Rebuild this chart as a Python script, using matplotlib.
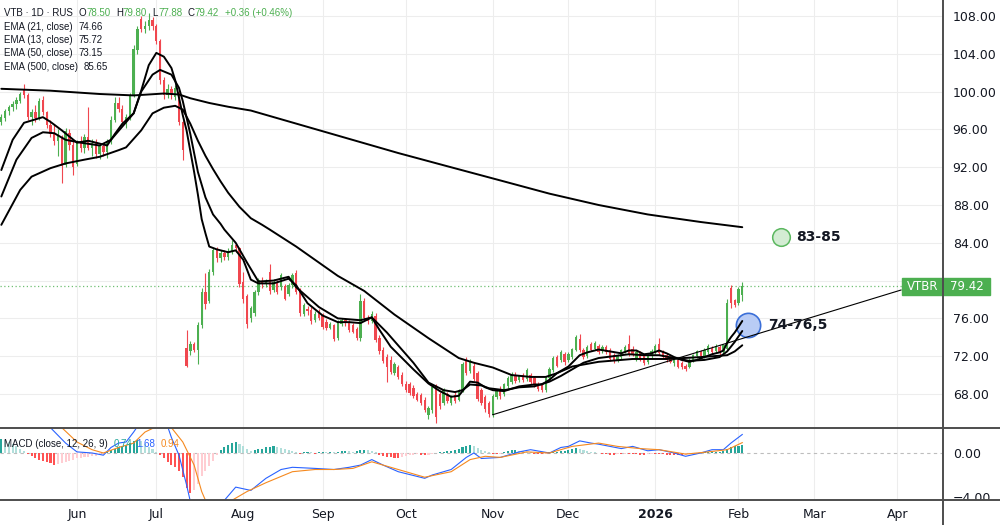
import numpy as np
import pandas as pd
import matplotlib
matplotlib.use("Agg")
import matplotlib.pyplot as plt
from matplotlib.lines import Line2D
from matplotlib.patches import Rectangle
from matplotlib.transforms import blended_transform_factory

# -----------------------
# Data
# -----------------------
ticker = "VTB · 1D · RUS"
symbol = "VTBR"
start_date = "2025-05-05"
end_date = "2026-04-30"

opens = [
    96.8, 97.2, 97.9, 98.4, 98.7, 99.0, 100.2, 99.6, 97.3, 97.8,
    97.2, 99.1, 97.8, 96.5, 95.5, 94.8, 95.2, 92.2, 95.6, 94.3,
    92.3, 94.6, 94.0, 95.2, 94.0, 94.6, 93.4, 94.2, 93.6, 94.8,
    97.0, 98.8, 98.2, 96.8, 97.3, 99.6, 104.4, 107.7, 106.6, 107.0,
    107.6, 106.9, 105.4, 101.2, 99.6, 100.3, 99.4, 100.0, 96.8, 72.9,
    72.5, 73.3, 72.6, 75.3, 78.8, 77.8, 80.9, 83.2, 82.4, 82.9,
    82.5, 83.1, 83.8, 83.4, 79.8, 78.4, 76.0, 76.6, 78.8, 80.0,
    79.6, 80.9, 79.0, 79.9, 79.3, 79.4, 78.6, 79.5, 80.8, 78.8,
    76.5, 77.0, 76.9, 75.8, 76.7, 76.4, 75.6, 75.0, 75.3, 73.9,
    75.4, 75.8, 75.6, 75.3, 74.9, 73.9, 77.8, 76.0, 75.7, 76.2,
    73.9, 72.7, 71.9, 71.6, 70.2, 70.9, 70.0, 69.1, 69.1, 68.6,
    68.0, 67.9, 67.4, 65.8, 66.3, 68.8, 68.0, 67.0, 68.0, 67.0,
    67.9, 67.4, 68.4, 71.6, 70.4, 71.0, 70.2, 68.4, 67.7, 67.0,
    65.8, 67.7, 68.5, 68.0, 68.8, 69.3, 70.0, 69.5, 70.0, 69.6,
    70.0, 69.7, 69.1, 68.9, 68.4, 69.7, 70.5, 71.9, 71.6, 72.2,
    71.6, 71.9, 72.7, 73.8, 72.7, 72.0, 73.3, 72.8, 73.1, 72.5,
    73.0, 72.7, 72.1, 71.6, 71.9, 72.5, 73.3, 72.8, 71.8, 72.3,
    72.0, 71.4, 72.0, 72.4, 73.3, 72.5, 72.1, 71.9, 71.3, 71.6,
    71.3, 71.0, 70.9, 71.6, 72.0, 72.4, 72.0, 72.4, 72.9, 72.5,
    73.0, 72.4, 72.8, 79.2, 77.9, 77.6, 78.50,
]
highs = [
    97.6, 98.2, 98.6, 99.0, 99.4, 100.0, 100.8, 99.9, 98.2, 98.6,
    99.3, 99.5, 98.0, 97.0, 96.6, 96.0, 95.4, 96.2, 96.0, 94.8,
    94.9, 95.3, 95.5, 98.4, 95.0, 95.0, 94.5, 94.6, 95.0, 97.4,
    99.4, 99.4, 98.6, 97.6, 99.9, 104.9, 107.0, 108.0, 107.5, 108.3,
    107.9, 107.2, 105.6, 101.5, 100.8, 100.6, 100.7, 100.2, 97.0, 74.8,
    73.6, 73.5, 75.6, 79.2, 80.8, 81.2, 83.5, 83.6, 83.2, 83.2,
    83.4, 84.3, 84.0, 83.6, 80.9, 78.6, 77.3, 79.0, 80.3, 80.4,
    80.2, 81.8, 80.2, 80.1, 80.8, 79.6, 79.7, 80.8, 81.1, 79.2,
    77.6, 77.3, 77.2, 76.8, 77.0, 76.6, 75.9, 75.6, 75.4, 75.8,
    76.0, 76.0, 75.8, 75.5, 75.1, 78.6, 78.2, 76.4, 76.8, 76.6,
    74.2, 73.0, 72.2, 72.0, 71.4, 71.1, 70.3, 69.4, 69.3, 68.9,
    68.2, 68.1, 67.7, 66.7, 68.9, 69.0, 68.2, 68.6, 68.2, 67.9,
    68.2, 68.5, 71.4, 71.9, 71.7, 71.3, 70.4, 68.6, 67.9, 67.3,
    68.0, 68.5, 68.8, 69.2, 69.9, 70.3, 70.3, 70.0, 70.2, 70.7,
    70.2, 69.9, 69.3, 69.1, 69.9, 70.8, 72.0, 72.1, 72.6, 72.4,
    72.4, 72.9, 74.2, 74.3, 72.9, 73.2, 73.5, 73.6, 73.3, 73.2,
    73.2, 72.9, 72.3, 72.2, 72.8, 73.2, 74.2, 73.1, 72.6, 72.5,
    72.2, 72.2, 72.8, 73.3, 73.9, 72.7, 72.3, 72.1, 71.9, 71.8,
    71.5, 71.2, 71.8, 72.2, 72.6, 72.6, 72.9, 73.3, 73.1, 73.3,
    73.2, 73.3, 78.1, 79.5, 78.1, 79.3, 79.80,
]
lows = [
    96.5, 96.9, 97.5, 98.0, 98.2, 98.8, 99.3, 97.0, 96.5, 96.8,
    97.0, 97.5, 96.2, 95.2, 94.4, 93.2, 90.3, 92.0, 93.8, 91.2,
    92.1, 93.6, 93.5, 93.8, 93.2, 93.0, 92.9, 93.2, 93.0, 94.5,
    96.8, 97.8, 96.5, 96.2, 97.0, 99.4, 104.0, 106.3, 106.2, 106.5,
    106.5, 105.0, 100.8, 99.2, 99.3, 99.2, 99.1, 96.5, 92.8, 70.8,
    72.1, 72.4, 71.2, 75.0, 77.0, 77.6, 80.6, 82.0, 82.0, 82.2,
    82.2, 82.8, 83.0, 79.3, 77.6, 75.0, 75.6, 76.2, 78.5, 79.2,
    79.3, 78.6, 78.8, 78.6, 79.0, 77.9, 78.4, 79.2, 78.6, 76.3,
    76.2, 76.4, 75.4, 75.6, 75.8, 74.9, 74.8, 74.9, 73.6, 73.7,
    75.2, 75.2, 74.6, 74.4, 73.7, 73.6, 75.8, 75.4, 75.5, 73.5,
    72.2, 71.3, 69.3, 70.1, 70.0, 69.6, 68.8, 68.2, 67.9, 67.6,
    67.2, 66.8, 66.1, 65.3, 66.0, 64.9, 66.4, 66.8, 67.0, 66.8,
    67.0, 67.2, 68.2, 70.0, 70.2, 69.4, 67.2, 66.8, 66.1, 65.6,
    65.6, 67.5, 67.5, 67.8, 68.6, 69.0, 69.2, 69.3, 69.3, 69.4,
    69.1, 68.7, 68.3, 68.2, 68.2, 69.5, 70.3, 70.8, 71.4, 71.1,
    71.4, 71.7, 72.5, 72.4, 71.7, 71.8, 72.5, 72.6, 72.2, 72.3,
    72.2, 71.5, 71.3, 71.4, 71.7, 72.3, 72.0, 72.0, 71.5, 71.5,
    71.1, 71.2, 71.8, 72.2, 72.1, 71.8, 71.4, 71.3, 71.0, 70.7,
    70.6, 70.4, 70.7, 71.4, 71.8, 71.8, 71.8, 72.2, 72.2, 72.3,
    72.1, 72.2, 72.6, 77.1, 77.2, 77.4, 77.88,
]
closes = [
    97.3, 97.9, 98.4, 98.7, 99.1, 99.8, 99.6, 97.3, 97.8, 97.2,
    99.0, 97.8, 96.5, 95.5, 94.8, 95.4, 92.1, 95.8, 94.3, 92.0,
    94.6, 94.0, 95.2, 94.0, 94.6, 93.4, 94.2, 93.6, 94.8, 97.0,
    98.8, 98.2, 96.8, 97.3, 99.6, 104.5, 106.6, 106.6, 107.0, 107.6,
    106.9, 105.4, 101.2, 99.6, 100.3, 99.6, 100.4, 96.8, 93.8, 71.0,
    73.3, 72.6, 75.3, 78.8, 77.5, 80.9, 83.2, 82.4, 82.9, 82.5,
    83.1, 83.8, 83.4, 79.6, 78.0, 75.4, 77.1, 78.8, 80.1, 79.6,
    80.0, 78.9, 79.9, 78.8, 80.6, 78.1, 79.5, 80.6, 78.8, 76.6,
    77.4, 76.8, 75.7, 76.5, 76.0, 75.1, 75.0, 75.4, 73.8, 75.6,
    75.8, 75.5, 74.8, 74.6, 73.9, 77.8, 76.0, 75.7, 76.5, 73.7,
    72.5, 71.5, 70.8, 70.3, 71.2, 69.8, 69.0, 68.4, 68.1, 67.8,
    67.4, 67.0, 66.3, 66.5, 68.7, 65.6, 66.7, 68.4, 67.3, 67.7,
    67.2, 68.4, 71.2, 70.2, 71.4, 69.6, 67.5, 67.0, 66.4, 65.9,
    67.8, 68.4, 67.8, 69.0, 69.7, 70.1, 69.4, 69.9, 69.5, 70.5,
    69.3, 68.9, 68.5, 68.4, 69.7, 70.6, 71.8, 71.0, 72.4, 71.4,
    72.2, 72.8, 74.0, 72.6, 71.9, 73.0, 72.7, 73.4, 72.4, 73.0,
    72.4, 71.7, 71.5, 72.1, 72.6, 73.0, 72.2, 72.2, 72.4, 71.6,
    71.3, 72.0, 72.5, 73.1, 72.3, 71.9, 71.6, 71.4, 71.8, 70.9,
    70.8, 70.6, 71.6, 72.1, 72.5, 72.0, 72.7, 73.1, 72.4, 73.1,
    72.3, 73.2, 77.6, 77.6, 77.4, 79.06, 79.42,
]

# moving averages, read at bar positions
ema13_at = [0, 3, 6, 11, 13, 16, 20, 23, 26, 28, 30, 32, 35, 37, 39, 41, 43, 45, 46, 48,
            49, 51, 52, 53, 54, 55, 57, 60, 62, 64, 66, 68, 72, 76, 78, 81, 85, 89, 92, 95,
            98, 100, 103, 106, 109, 113, 116, 119, 121, 122, 124, 126, 128, 130, 133, 137,
            141, 143, 145, 147, 150, 153, 155, 158, 161, 164, 166, 168, 170, 172, 174, 176,
            178, 180, 182, 184, 186, 188, 190, 191, 192, 193, 194, 195, 196]
ema13 = [91.7, 94.9, 96.7, 97.3, 96.8, 95.9, 94.6, 94.8, 94.5, 94.3, 95.5, 96.6, 97.7, 100.1,
         102.8, 104.1, 103.7, 102.5, 101.2, 97.5, 95.9, 91.5, 89.1, 86.5, 85.0, 83.6, 83.3,
         83.0, 83.2, 82.2, 80.1, 79.7, 79.7, 80.2, 79.5, 77.6, 76.3, 75.6, 75.6, 75.5, 76.1,
         74.8, 73.0, 71.8, 70.6, 69.1, 68.3, 67.7, 67.8, 68.3, 69.3, 69.2, 68.7, 68.4, 68.3,
         68.8, 69.0, 69.0, 69.5, 70.2, 70.9, 72.1, 72.4, 72.7, 72.5, 72.3, 72.6, 72.6, 72.2,
         72.3, 72.6, 72.3, 71.9, 71.6, 71.4, 71.6, 71.9, 72.2, 72.4, 72.6, 73.4, 74.0, 74.5,
         75.1, 75.72]
ema21_at = [0, 4, 8, 11, 14, 17, 21, 26, 29, 32, 35, 37, 40, 42, 45, 47, 48, 50, 52, 54,
            56, 58, 59, 62, 65, 68, 72, 76, 78, 84, 89, 95, 98, 102, 109, 113, 117, 120, 122,
            124, 127, 129, 133, 137, 141, 145, 148, 151, 154, 158, 162, 166, 170, 174, 178,
            182, 186, 190, 192, 194, 196]
ema21 = [88.9, 92.8, 95.1, 95.7, 95.6, 94.9, 94.6, 94.3, 94.9, 96.3, 97.7, 100.0, 101.8,
         102.3, 101.8, 100.4, 99.0, 95.5, 91.5, 88.8, 87.0, 86.0, 85.4, 84.0, 81.9, 79.9,
         80.0, 80.4, 79.3, 77.2, 76.0, 75.8, 76.1, 74.5, 71.3, 69.2, 68.4, 68.2, 68.4, 69.0,
         68.9, 68.6, 68.4, 68.7, 68.8, 69.3, 69.9, 70.6, 71.3, 71.8, 72.0, 72.2, 72.1, 72.1,
         71.8, 71.5, 71.6, 71.9, 72.5, 73.5, 74.66]
ema50_at = [0, 5, 8, 13, 17, 22, 26, 31, 33, 37, 40, 43, 46, 48, 50, 52, 54, 56, 58, 60,
            63, 66, 69, 71, 78, 89, 96, 104, 113, 121, 125, 130, 135, 140, 144, 147, 151,
            158, 167, 176, 185, 192, 194, 196]
ema50 = [85.9, 89.6, 91.0, 91.9, 92.4, 92.8, 93.1, 93.8, 94.1, 95.9, 97.7, 98.3, 98.5, 98.1,
         96.6, 94.8, 93.2, 91.8, 90.5, 89.3, 87.8, 86.6, 85.9, 85.4, 83.6, 80.5, 78.9, 76.4,
         73.9, 71.8, 71.3, 70.8, 70.0, 69.8, 69.8, 70.2, 70.9, 71.4, 71.7, 71.7, 71.9, 72.1,
         72.5, 73.15]
ema500_at = [0, 13, 26, 35, 43, 47, 50, 55, 60, 66, 79, 92, 105, 118, 132, 145, 158, 171, 185, 196]
ema500 = [100.3, 100.1, 99.75, 99.6, 99.8, 99.7, 99.3, 98.8, 98.4, 98.0, 96.5, 95.0, 93.5,
          92.1, 90.6, 89.2, 88.0, 87.0, 86.2, 85.65]

# MACD (12, 26, 9)
macd_hist = [
    1.3, 1.2, 1.0, 0.8, 0.6, 0.4, 0.15, -0.1, -0.3, -0.5,
    -0.6, -0.75, -0.85, -0.95, -1.05, -1.0, -0.95, -0.85, -0.7, -0.6,
    -0.5, -0.45, -0.4, -0.35, -0.3, -0.25, -0.15, -0.05, 0.1, 0.25,
    0.4, 0.55, 0.6, 0.75, 0.95, 1.1, 1.2, 1.05, 0.8, 0.55,
    0.35, 0.1, -0.2, -0.5, -0.8, -1.1, -1.3, -1.6, -2.2, -3.2,
    -3.6, -3.4, -2.8, -2.1, -1.6, -1.2, -0.7, -0.2, 0.3, 0.55,
    0.75, 0.9, 1.0, 0.8, 0.6, 0.4, 0.2, 0.25, 0.35, 0.4,
    0.5, 0.55, 0.6, 0.55, 0.45, 0.35, 0.25, 0.15, 0.05, -0.05,
    0.05, 0.1, 0.05, -0.05, 0.05, 0.1, 0.05, 0.1, 0.05, 0.1,
    0.15, 0.2, 0.15, 0.1, 0.15, 0.3, 0.3, 0.25, 0.2, 0.05,
    -0.15, -0.25, -0.35, -0.4, -0.45, -0.45, -0.35, -0.3, -0.2, -0.15,
    -0.1, -0.15, -0.2, -0.15, -0.05, 0.0, 0.05, 0.1, 0.15, 0.2,
    0.3, 0.4, 0.55, 0.65, 0.7, 0.6, 0.45, 0.3, 0.15, 0.05,
    -0.05, -0.1, -0.05, 0.1, 0.15, 0.25, 0.25, 0.2, 0.15, 0.1,
    0.05, -0.05, -0.1, -0.1, -0.05, 0.05, 0.1, 0.1, 0.15, 0.2,
    0.25, 0.35, 0.45, 0.4, 0.3, 0.2, 0.1, 0.05, 0.0, -0.05,
    -0.1, -0.15, -0.15, -0.1, -0.1, -0.05, -0.05, -0.05, -0.1, -0.15,
    -0.15, -0.1, -0.05, -0.05, -0.1, -0.1, -0.15, -0.15, -0.15, -0.2,
    -0.2, -0.15, -0.1, -0.05, -0.03, 0.02, 0.05, 0.08, 0.1, 0.12,
    0.12, 0.15, 0.35, 0.55, 0.6, 0.68, 0.74,
]
macd_at = [0, 7, 13, 17, 20, 24, 27, 29, 31, 33, 35, 36, 39, 42, 44, 45, 47, 49, 50, 52,
           54, 56, 58, 59, 62, 66, 70, 74, 77, 83, 88, 92, 95, 98, 101, 105, 112, 114, 119,
           123, 125, 127, 132, 137, 140, 145, 148, 150, 153, 156, 158, 161, 164, 167, 171,
           174, 178, 181, 185, 188, 191, 193, 196]
macd_line = [3.8, 3.2, 2.3, 0.9, 0.1, 0.0, -0.2, 0.5, 0.9, 1.0, 1.9, 2.4, 3.2, 3.0, 2.4, 1.4,
             -0.2, -2.9, -4.4, -5.6, -6.2, -5.8, -4.9, -4.3, -3.1, -3.4, -2.3, -1.5, -1.3,
             -1.4, -1.5, -1.3, -1.1, -0.6, -1.1, -1.7, -2.3, -2.0, -1.5, -0.4, 0.0, -0.5,
             -0.4, 0.1, 0.3, 0.0, 0.5, 0.6, 1.1, 0.9, 0.8, 0.6, 0.4, 0.6, 0.2, 0.3, 0.0,
             -0.3, 0.0, 0.3, 0.3, 0.9, 1.68]
signal_at = [0, 10, 16, 20, 24, 27, 31, 35, 38, 41, 44, 45, 48, 51, 53, 54, 56, 59, 61, 65,
             70, 77, 83, 88, 93, 98, 105, 112, 119, 124, 128, 132, 139, 145, 151, 158, 163,
             169, 174, 181, 187, 192, 196]
signal_line = [4.5, 3.5, 2.3, 1.0, 0.3, 0.0, 0.5, 0.9, 1.9, 2.4, 2.6, 2.3, 1.0, -1.1, -3.5,
               -4.3, -4.8, -4.6, -4.3, -3.5, -2.7, -1.7, -1.5, -1.5, -1.4, -0.8, -1.5, -2.2,
               -1.7, -0.6, -0.3, -0.4, 0.1, 0.0, 0.6, 0.9, 0.6, 0.4, 0.3, -0.1, 0.1, 0.3, 0.94]

# drawings on the chart
trend_at = [130, 238]
trend_val = [65.8, 79.0]
target_at = [197.5, 206.3]
target_val = [75.3, 84.6]
target_text = ["74-76,5", "83-85"]

price_ticks = [68, 72, 76, 80, 84, 88, 92, 96, 100, 104, 108]
macd_ticks = [0, -4]

# -----------------------
# Style
# -----------------------
GREEN = "#4caf50"
RED = "#f0474f"
INK = "#131722"
GRID = "#ededed"
FRAME = "#4d4d4d"
SMALL_FONT = "Liberation Sans"

plt.rcParams["font.family"] = "DejaVu Sans"


def chained_text(ax, y_pt, parts, size=7):
    """Coloured pieces of text placed one after the other."""
    s, color, _ = parts[0]
    t = ax.annotate(s, xy=(0, 1), xycoords="axes fraction", xytext=(3, y_pt),
                    textcoords="offset points", ha="left", va="bottom",
                    fontsize=size, color=color, family=SMALL_FONT, zorder=12)
    for s, color, gap in parts[1:]:
        t = ax.annotate(s, xy=(1, 0), xycoords=t, xytext=(gap, 0),
                        textcoords="offset points", ha="left", va="bottom",
                        fontsize=size, color=color, family=SMALL_FONT, zorder=12)


dates = pd.bdate_range(start_date, end_date)
month_pos = [i for i in range(1, len(dates)) if dates[i].month != dates[i - 1].month]
month_lbl = [str(dates[i].year) if dates[i].month == 1 else dates[i].strftime("%b")
             for i in month_pos]

o, h, l, c = map(np.array, (opens, highs, lows, closes))
x = np.arange(len(c))
up = c >= o
candle_col = np.where(up, GREEN, RED)

fig = plt.figure(figsize=(10, 5.25), dpi=100)
ax = fig.add_axes([0, 98 / 525, 0.943, 427 / 525])
ax2 = fig.add_axes([0, 25 / 525, 0.943, 72 / 525])
xlim = (-0.35, 249.1)

# -----------------------
# Price panel
# -----------------------
ax.vlines(x, l, h, color=candle_col, lw=0.8, zorder=2)
ax.bar(x, np.maximum(np.abs(c - o), 0.08), bottom=np.minimum(o, c), width=0.62,
       color=candle_col, linewidth=0, zorder=3)

for at, vals in ((ema13_at, ema13), (ema21_at, ema21), (ema50_at, ema50), (ema500_at, ema500)):
    ax.plot(at, vals, color="black", lw=1.4, zorder=5, solid_capstyle="round")

ax.plot(trend_at, trend_val, color="black", lw=0.8, zorder=5)

# target circles
ax.plot(target_at[0], target_val[0], "o", ms=17.5, mfc="#b9ccf5", mec="#3b6fd8",
        mew=1.2, zorder=4)
ax.plot(target_at[1], target_val[1], "o", ms=12.7, mfc="#d3ecd3", mec="#5cb860",
        mew=1.1, zorder=4)
for at, val, txt, off in zip(target_at, target_val, target_text, (14.5, 11)):
    ax.annotate(txt, xy=(at, val), xytext=(off, 0), textcoords="offset points",
                ha="left", va="center", fontsize=10, fontweight="bold", color=INK, zorder=9)

# last price line and tag
last = c[-1]
ax.axhline(last, xmin=0, xmax=0.9565, color=GREEN, ls=(0, (1, 2)), lw=0.9, alpha=0.8, zorder=1)
tag_tr = blended_transform_factory(ax.transAxes, ax.transData)
ax.add_patch(Rectangle((0.9565, last - 0.9), 0.0935, 1.8, transform=tag_tr, color=GREEN,
                       clip_on=False, zorder=10))
ax.text(0.978, last, symbol, transform=tag_tr, ha="center", va="center", color="white",
        fontsize=8.5, zorder=11, clip_on=False)
ax.text(1.025, last, f"{last:.2f}", transform=tag_tr, ha="center", va="center",
        color="white", fontsize=8.5, zorder=11, clip_on=False)

ax.set_xlim(*xlim)
ax.set_ylim(64.5, 109.7)
ax.yaxis.tick_right()
ax.set_yticks(price_ticks)
# the tick hidden under the price tag gets no label
ax.set_yticklabels(["" if abs(v - last) < 1 else f"{v:.2f}" for v in price_ticks])
ax.set_xticks(month_pos)
ax.tick_params(axis="y", length=0, pad=7, labelsize=9, labelcolor=INK)
ax.tick_params(axis="x", length=0, labelbottom=False)
ax.grid(True, color=GRID, lw=0.8)
ax.set_axisbelow(True)
for sp in ax.spines.values():
    sp.set_visible(False)

# legend block
chg = c[-1] - c[-2]
chained_text(ax, -13, [
    (ticker, INK, 0), ("O", INK, 4), (f"{o[-1]:.2f}", GREEN, 0),
    ("H", INK, 4), (f"{h[-1]:.2f}", GREEN, 0), ("L", INK, 4), (f"{l[-1]:.2f}", GREEN, 0),
    ("C", INK, 4), (f"{c[-1]:.2f}", GREEN, 0),
    (f"{chg:+.2f} ({chg / c[-2] * 100:+.2f}%)", GREEN, 4),
])
for k, (name, vals) in enumerate((("EMA (21, close)", ema21), ("EMA (13, close)", ema13),
                                  ("EMA (50, close)", ema50), ("EMA (500, close)", ema500))):
    chained_text(ax, -22.8 - 9.6 * k, [(name, INK, 0), (f"{vals[-1]:.2f}", INK, 4)])

# -----------------------
# MACD panel
# -----------------------
hist = np.array(macd_hist)
prev = np.concatenate([[hist[0]], hist[:-1]])
hist_col = [("#26a69a" if v >= p else "#b2dfdb") if v >= 0 else
            ("#ff5252" if v <= p else "#ffcdd2") for v, p in zip(hist, prev)]
ax2.bar(x, hist, width=0.55, color=hist_col, linewidth=0, zorder=2)
ax2.plot(macd_at, macd_line, color="#2962ff", lw=0.8, zorder=3)
ax2.plot(signal_at, signal_line, color="#f5891f", lw=0.8, zorder=3)
ax2.axhline(0, color="#bdbdbd", ls=(0, (3, 3)), lw=0.8, zorder=1)

ax2.set_xlim(*xlim)
ax2.set_ylim(-4.27, 2.27)
ax2.yaxis.tick_right()
ax2.set_yticks(macd_ticks)
ax2.set_yticklabels([f"{v:.2f}".replace("-", "\u2212") for v in macd_ticks])
ax2.set_xticks(month_pos)
ax2.set_xticklabels(month_lbl)
for lbl in ax2.get_xticklabels():
    if lbl.get_text().isdigit():
        lbl.set_fontweight("bold")
ax2.tick_params(axis="y", length=0, pad=7, labelsize=9, labelcolor=INK)
ax2.tick_params(axis="x", length=0, pad=6, labelsize=9, labelcolor=INK)
ax2.grid(True, axis="x", color=GRID, lw=0.8)
ax2.set_axisbelow(True)
for sp in ax2.spines.values():
    sp.set_visible(False)

chained_text(ax2, -15, [
    ("MACD (close, 12, 26, 9)", INK, 0), (f"{hist[-1]:.2f}", "#26a69a", 4),
    (f"{macd_line[-1]:.2f}", "#2962ff", 3), (f"{signal_line[-1]:.2f}", "#f5891f", 4),
])

# panel frame
fig.add_artist(Rectangle((0.943, 0), 0.057, 25 / 525, transform=fig.transFigure,
                         fc="white", ec="none", zorder=5))
for xs, ys in (([0, 1], [97.5 / 525] * 2), ([0, 1], [25 / 525] * 2), ([0.943] * 2, [0, 1])):
    fig.add_artist(Line2D(xs, ys, transform=fig.transFigure, color=FRAME, lw=1.4, zorder=6))

fig.savefig("out.png", dpi=100, facecolor="white")
